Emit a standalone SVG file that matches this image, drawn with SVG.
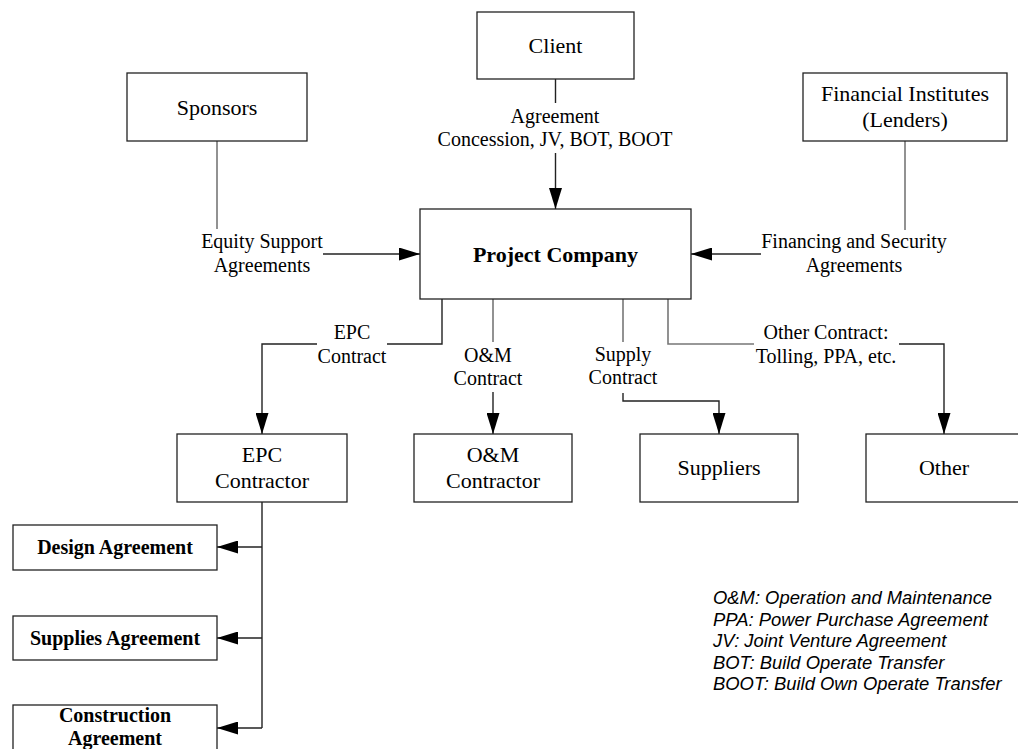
<svg xmlns="http://www.w3.org/2000/svg" width="1018" height="749" viewBox="0 0 1018 749">
<defs>
<marker id="arr" markerUnits="userSpaceOnUse" markerWidth="21" markerHeight="13" refX="21" refY="6.5" orient="auto">
<path d="M0,0 L21,6.5 L0,13 z" fill="#000"/>
</marker>
<style>
.box{fill:#fff;stroke:#222;stroke-width:1.3}
.t{font-family:"Liberation Serif","Times New Roman",serif;font-size:22px;fill:#000;text-anchor:middle}
.b{font-family:"Liberation Serif","Times New Roman",serif;font-size:22px;font-weight:bold;fill:#000;text-anchor:middle}
.sb{font-family:"Liberation Serif","Times New Roman",serif;font-size:20px;font-weight:bold;fill:#000;text-anchor:middle}
.lbl{font-family:"Liberation Serif","Times New Roman",serif;font-size:20px;fill:#000;text-anchor:middle}
.leg{font-family:"Liberation Sans",Arial,sans-serif;font-size:18.4px;font-style:italic;fill:#000}
.c{fill:none;stroke:#222;stroke-width:1.4}
.g{fill:none;stroke:#777;stroke-width:1.6}
</style>
</defs>
<rect width="1018" height="749" fill="#fff"/>

<g id="connectors">
<path class="c" d="M555.5 79 V103"/>
<path class="c" d="M555.5 153 V209" marker-end="url(#arr)"/>
<path class="g" d="M217 141 V229"/>
<path class="c" d="M323 254 H420" marker-end="url(#arr)"/>
<path class="g" d="M905 141 V230"/>
<path class="c" d="M761 254 H691" marker-end="url(#arr)"/>
<path class="c" d="M442 299 V344 H387"/>
<path class="c" d="M317 344 H262 V434" marker-end="url(#arr)"/>
<path class="g" d="M493 299 V342"/>
<path class="c" d="M493 392 V434" marker-end="url(#arr)"/>
<path class="g" d="M623 299 V342"/>
<path class="c" d="M623 393 V401 H719 V434" marker-end="url(#arr)"/>
<path class="g" d="M668 299 V344 H754"/>
<path class="c" d="M899 344 H944 V434" marker-end="url(#arr)"/>
<path class="c" d="M262 502 V728"/>
<path class="c" d="M262 547 H217" marker-end="url(#arr)"/>
<path class="c" d="M262 638 H217" marker-end="url(#arr)"/>
<path class="c" d="M262 728 H217" marker-end="url(#arr)"/>
</g>

<g id="labels">
<text class="lbl" x="555" y="123">Agreement</text>
<text class="lbl" x="555" y="146">Concession, JV, BOT, BOOT</text>
<text class="lbl" x="262" y="248">Equity Support</text>
<text class="lbl" x="262" y="272">Agreements</text>
<text class="lbl" x="854" y="248">Financing and Security</text>
<text class="lbl" x="854" y="272">Agreements</text>
<text class="lbl" x="352" y="339">EPC</text>
<text class="lbl" x="352" y="363">Contract</text>
<text class="lbl" x="488" y="362">O&amp;M</text>
<text class="lbl" x="488" y="385">Contract</text>
<text class="lbl" x="623" y="361">Supply</text>
<text class="lbl" x="623" y="384">Contract</text>
<text class="lbl" x="826" y="339">Other Contract:</text>
<text class="lbl" x="826" y="363">Tolling, PPA, etc.</text>
</g>

<g id="client">
<rect class="box" x="477" y="12" width="157" height="67"/>
<text class="t" x="555.5" y="53">Client</text>
</g>
<g id="sponsors">
<rect class="box" x="127" y="73" width="180" height="68"/>
<text class="t" x="217" y="114.5">Sponsors</text>
</g>
<g id="financial">
<rect class="box" x="803" y="73" width="204" height="68"/>
<text class="t" x="905" y="101">Financial Institutes</text>
<text class="t" x="905" y="127">(Lenders)</text>
</g>
<g id="project-company">
<rect class="box" x="420" y="209" width="271" height="90"/>
<text class="b" x="555.5" y="261.5">Project Company</text>
</g>
<g id="epc-contractor">
<rect class="box" x="177" y="434" width="170" height="68"/>
<text class="t" x="262" y="462">EPC</text>
<text class="t" x="262" y="488">Contractor</text>
</g>
<g id="om-contractor">
<rect class="box" x="414" y="434" width="158" height="68"/>
<text class="t" x="493" y="462">O&amp;M</text>
<text class="t" x="493" y="488">Contractor</text>
</g>
<g id="suppliers">
<rect class="box" x="640" y="434" width="158" height="68"/>
<text class="t" x="719" y="475">Suppliers</text>
</g>
<g id="other">
<rect class="box" x="866" y="434" width="156" height="68"/>
<text class="t" x="944" y="475">Other</text>
</g>
<g id="design">
<rect class="box" x="13" y="525" width="204" height="45"/>
<text class="sb" x="115" y="554">Design Agreement</text>
</g>
<g id="supplies">
<rect class="box" x="13" y="616" width="204" height="44"/>
<text class="sb" x="115" y="645">Supplies Agreement</text>
</g>
<g id="construction">
<rect class="box" x="13" y="705" width="204" height="47"/>
<text class="sb" x="115" y="722">Construction</text>
<text class="sb" x="115" y="745">Agreement</text>
</g>

<g id="legend">
<text class="leg" x="713" y="604">O&amp;M: Operation and Maintenance</text>
<text class="leg" x="713" y="625.5">PPA: Power Purchase Agreement</text>
<text class="leg" x="713" y="647">JV: Joint Venture Agreement</text>
<text class="leg" x="713" y="668.5">BOT: Build Operate Transfer</text>
<text class="leg" x="713" y="690">BOOT: Build Own Operate Transfer</text>
</g>
</svg>
